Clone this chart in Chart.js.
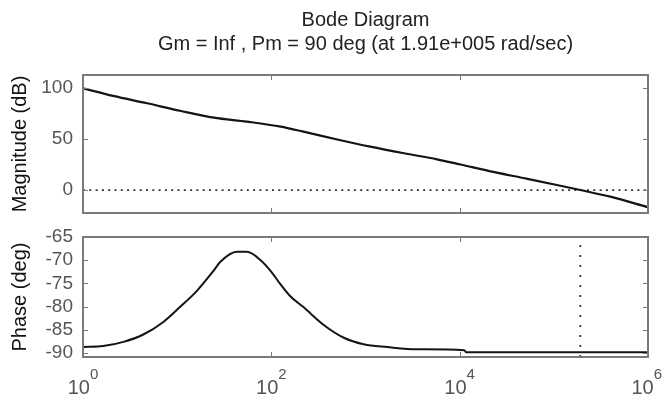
<!DOCTYPE html>
<html>
<head>
<meta charset="utf-8">
<script src="https://cdn.jsdelivr.net/npm/chart.js@4.4.1/dist/chart.umd.min.js"></script>
<style>
  html, body { margin: 0; padding: 0; background: #fff; }
  #wrap { position: relative; width: 663px; height: 398px; overflow: hidden; }
  .box { position: absolute; left: 0; width: 663px; }
  #magBox { top: 0; height: 220px; }
  #phaseBox { top: 220px; height: 178px; }
</style>
</head>
<body>
<div id="wrap">
  <div class="box" id="magBox"><canvas id="magChart"></canvas></div>
  <div class="box" id="phaseBox"><canvas id="phaseChart"></canvas></div>
</div>
<script>
// values (frequency in rad/sec)
const magFreq = [1, 2.09, 4.79, 10.7, 24.5, 55, 126, 219, 501, 1120, 2570, 5750, 10200, 23400, 52500, 117500, 191000, 398000, 1000000];
const magDb = [99.7, 92.2, 85.0, 77.7, 70.9, 67.0, 62.1, 57.2, 49.5, 42.5, 36.0, 30.1, 25.0, 17.5, 11.0, 4.2, 0, -6.5, -16.8];

const phaseFreq = [1, 1.64, 2.69, 4.37, 7.14, 10.7, 16.2, 24.3, 28.6, 43.2, 55, 75.9, 100, 123, 158, 219, 363, 589, 955, 1700, 3550, 11200, 11750, 1000000];
const phaseDeg = [-88.7, -88.5, -87.6, -86.0, -83.3, -80.1, -76.6, -72.3, -70.4, -68.2, -68.2, -69.9, -72.5, -75.0, -77.7, -80.1, -84.0, -86.7, -88.1, -88.7, -89.2, -89.4, -89.85, -89.85];

const xTicks = [1, 100, 10000, 1000000];
const xTickExp = ['0', '2', '4', '6'];
const magTicks = [0, 50, 100];
const phaseTicks = [-90, -85, -80, -75, -70, -65];
const magRange = [-22.5, 112.7];
const phaseRange = [-90.85, -65];
const crossFreq = 191000; // Pm frequency

const titleText = 'Bode Diagram';
const subtitleText = 'Gm = Inf , Pm = 90 deg (at 1.91e+005 rad/sec)';

Chart.defaults.font.family = '"Liberation Sans", Arial, sans-serif';
Chart.defaults.animation = false;

// box round the axes plus small inward ticks, matlab style
const framePlugin = {
  id: 'frame',
  afterDatasetsDraw(chart) {
    const { ctx, chartArea: a, scales } = chart;
    ctx.save();
    ctx.strokeStyle = '#7a7a7a';
    ctx.lineWidth = 2;
    ctx.strokeRect(a.left, a.top, a.right - a.left, a.bottom - a.top);
    ctx.lineWidth = 1;
    ctx.beginPath();
    scales.y.ticks.forEach(t => {
      const y = Math.round(scales.y.getPixelForValue(t.value)) + 0.5;
      ctx.moveTo(a.left, y); ctx.lineTo(a.left + 5, y);
      ctx.moveTo(a.right - 5, y); ctx.lineTo(a.right, y);
    });
    xTicks.slice(1, -1).forEach(v => {
      const x = Math.round(scales.x.getPixelForValue(v)) + 0.5;
      ctx.moveTo(x, a.top); ctx.lineTo(x, a.top + 5);
      ctx.moveTo(x, a.bottom - 5); ctx.lineTo(x, a.bottom);
    });
    ctx.stroke();
    ctx.restore();
  }
};

// 10^n labels under the phase axes
const expLabels = {
  id: 'expLabels',
  afterDraw(chart) {
    const { ctx, scales } = chart;
    const baseFont = '20px "Liberation Sans", Arial, sans-serif';
    const expFont = '15px "Liberation Sans", Arial, sans-serif';
    ctx.save();
    ctx.fillStyle = '#555';
    ctx.textBaseline = 'alphabetic';
    xTicks.forEach((v, i) => {
      const px = scales.x.getPixelForValue(v);
      ctx.font = baseFont;
      const wb = ctx.measureText('10').width;
      ctx.font = expFont;
      const we = ctx.measureText(xTickExp[i]).width;
      const left = Math.min(px - (wb + we) / 2, 662 - wb - we);
      ctx.font = baseFont;
      ctx.fillText('10', left, 174);
      ctx.font = expFont;
      ctx.fillText(xTickExp[i], left + wb, 159);
    });
    ctx.restore();
  }
};

function yAxis(range, ticks, label) {
  return {
    min: range[0],
    max: range[1],
    afterBuildTicks: s => { s.ticks = ticks.map(v => ({ value: v })); },
    afterFit: s => { s.width = 83; s.paddingTop = 0; s.paddingBottom = 0; },
    grid: { display: false, drawTicks: false },
    border: { display: false },
    ticks: { color: '#555', padding: 10, autoSkip: false, font: { size: 19 } },
    title: { display: true, text: label, color: '#111', font: { size: 20 }, padding: { top: 8, bottom: 0 } }
  };
}

const xAxis = { type: 'logarithmic', min: xTicks[0], max: xTicks[xTicks.length - 1], display: false };

new Chart(document.getElementById('magChart'), {
  type: 'line',
  data: {
    datasets: [
      {
        data: magFreq.map((f, i) => ({ x: f, y: magDb[i] })),
        borderColor: '#141414', borderWidth: 2.2, pointRadius: 0,
        cubicInterpolationMode: 'monotone'
      },
      {
        data: [{ x: xTicks[0], y: 0 }, { x: xTicks[xTicks.length - 1], y: 0 }],
        borderColor: '#333', borderWidth: 1.8, borderDash: [2, 4.3], pointRadius: 0
      }
    ]
  },
  options: {
    responsive: true, maintainAspectRatio: false, devicePixelRatio: 1,
    layout: { padding: { top: 8, right: 15, bottom: 7, left: 0 } },
    plugins: {
      legend: { display: false },
      tooltip: { enabled: false },
      title: { display: true, text: titleText, fullSize: false, color: '#222', font: { size: 20, weight: 'normal' }, padding: { top: 0, bottom: 0 } },
      subtitle: { display: true, text: subtitleText, fullSize: false, color: '#222', font: { size: 20 }, padding: { top: 0, bottom: 19 } }
    },
    scales: { x: xAxis, y: yAxis(magRange, magTicks, 'Magnitude (dB)') }
  },
  plugins: [framePlugin]
});

new Chart(document.getElementById('phaseChart'), {
  type: 'line',
  data: {
    datasets: [
      {
        data: phaseFreq.map((f, i) => ({ x: f, y: phaseDeg[i] })),
        borderColor: '#141414', borderWidth: 2, pointRadius: 0,
        cubicInterpolationMode: 'monotone'
      },
      {
        data: [{ x: crossFreq, y: phaseRange[0] }, { x: crossFreq, y: phaseRange[1] }],
        borderColor: '#333', borderWidth: 1.8, borderDash: [2, 8], pointRadius: 0
      }
    ]
  },
  options: {
    responsive: true, maintainAspectRatio: false, devicePixelRatio: 1,
    layout: { padding: { top: 17, right: 15, bottom: 41, left: 0 } },
    plugins: { legend: { display: false }, tooltip: { enabled: false } },
    scales: { x: xAxis, y: yAxis(phaseRange, phaseTicks, 'Phase (deg)') }
  },
  plugins: [framePlugin, expLabels]
});
</script>
</body>
</html>
